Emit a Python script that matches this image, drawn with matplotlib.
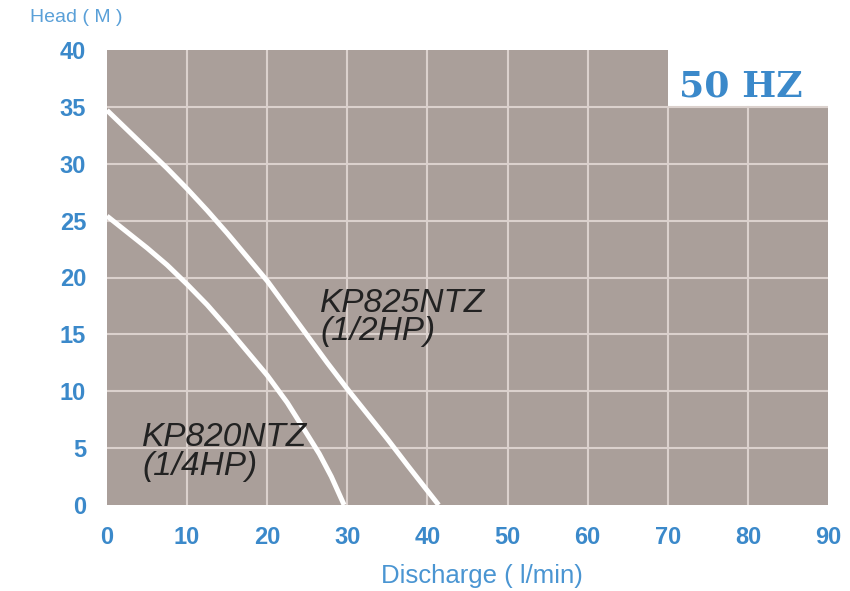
import matplotlib.pyplot as plt

# Pump curves (discharge l/min, head m)
q_825 = [0, 2.5, 5, 7.5, 10, 12.5, 15, 17.5, 20, 22.5, 25, 27.5, 30, 32.5, 35, 37.5, 39.5, 41.4]
h_825 = [34.7, 33.0, 31.3, 29.6, 27.8, 25.9, 23.9, 21.8, 19.7, 17.3, 14.9, 12.5, 10.2, 8.0, 5.8, 3.5, 1.7, 0]
q_820 = [0, 2.5, 5, 7.5, 10, 12.5, 15, 17.5, 20, 22.5, 25, 26.5, 28, 29.6]
h_820 = [25.4, 24.0, 22.6, 21.1, 19.4, 17.6, 15.6, 13.5, 11.4, 9.0, 6.2, 4.5, 2.5, 0]

x_ticks = [0, 10, 20, 30, 40, 50, 60, 70, 80, 90]
y_ticks = [0, 5, 10, 15, 20, 25, 30, 35, 40]

blue = '#3b89ca'
bg = '#aa9f9a'
grid_c = '#dbd1cd'

fig = plt.figure(figsize=(8.5, 5.91), dpi=100)
ax = fig.add_axes([107 / 850, 86 / 591, 721 / 850, 455 / 591])

# stepped gray panel (top-right corner cut out for the "50 HZ" badge)
ax.fill_between([0, 70, 70, 90], [40, 40, 35, 35], 0, color=bg, lw=0, zorder=0)

for x in x_ticks[1:-1]:
    top = 40 if x < 70 else 35
    ax.plot([x, x], [0, top], color=grid_c, lw=1.5, zorder=1)
for y in y_ticks[1:-1]:
    ax.plot([0, 90], [y, y], color=grid_c, lw=1.5, zorder=1)

ax.plot(q_825, h_825, color='white', lw=3.6, zorder=3, solid_capstyle='butt',
        solid_joinstyle='round')
ax.plot(q_820, h_820, color='white', lw=3.6, zorder=3, solid_capstyle='butt',
        solid_joinstyle='round')

ax.text(26.6, 19.1, 'KP825NTZ\n(1/2HP)', fontsize=24, style='italic',
        family='Liberation Sans', color='#222222', va='top', ha='left',
        linespacing=0.9, zorder=4)
ax.text(4.4, 7.3, 'KP820NTZ\n(1/4HP)', fontsize=24, style='italic',
        family='Liberation Sans', color='#222222', va='top', ha='left',
        linespacing=0.9, zorder=4)

ax.text(79.1, 36.8, '50 HZ', fontsize=26, fontweight='bold', color=blue,
        family='DejaVu Serif', ha='center', va='center')

ax.set_xlim(0, 90)
ax.set_ylim(0, 40)
ax.set_xticks(x_ticks)
ax.set_yticks(y_ticks)
for s in ax.spines.values():
    s.set_visible(False)
ax.tick_params(length=0, labelsize=17, labelcolor=blue)
ax.tick_params(axis='x', pad=15)
ax.tick_params(axis='y', pad=15)
for lab in ax.get_xticklabels() + ax.get_yticklabels():
    lab.set_fontweight('bold')
    lab.set_family('Liberation Sans')

fig.text(482 / 850, 1 - 576 / 591, 'Discharge ( l/min)', fontsize=18.5,
         color='#4a95d2', ha='center', va='center', family='Liberation Sans')
fig.text(30 / 850, 1 - 18 / 591, 'Head ( M )', fontsize=14,
         color='#5aa0d8', ha='left', va='center', family='Liberation Sans')

fig.savefig('out.png', dpi=100)
